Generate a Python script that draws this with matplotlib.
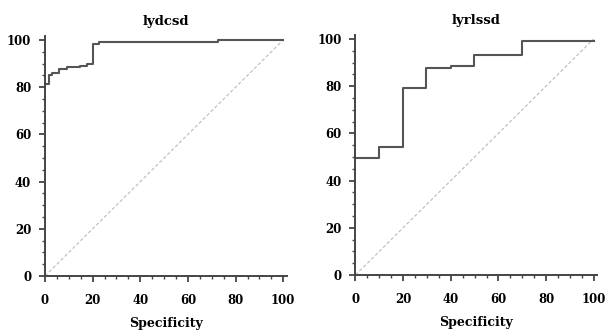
import numpy as np
import matplotlib
matplotlib.use("Agg")
import matplotlib.pyplot as plt
from matplotlib.ticker import MultipleLocator

# step curves (specificity axis, sensitivity)
lydcsd_x = [0, 1.5, 3.0, 5.7, 9.2, 14.8, 17.6, 20.3, 22.7, 72.7, 100]
lydcsd_y = [81.3, 85.1, 86.2, 87.7, 88.4, 89.1, 89.9, 98.1, 99.2, 100, 100]

lyrlssd_x = [0, 10, 20, 29.8, 40, 49.8, 69.7, 100]
lyrlssd_y = [49.5, 54.3, 79.4, 87.5, 88.5, 93.1, 99.1, 99.1]

titles = ["lydcsd", "lyrlssd"]
xlabel = "Specificity"
ticks = [0, 20, 40, 60, 80, 100]

plt.rcParams["font.family"] = ["DejaVu Serif"]
plt.rcParams["font.weight"] = "bold"

fig = plt.figure(figsize=(6.06, 3.30), dpi=100)
ax1 = fig.add_axes([0.0743, 0.1636, 0.399, 0.726])
ax2 = fig.add_axes([0.5866, 0.1667, 0.399, 0.726])

col = "#555555"
for ax, xs, ys, title in [(ax1, lydcsd_x, lydcsd_y, titles[0]),
                          (ax2, lyrlssd_x, lyrlssd_y, titles[1])]:
    ax.plot([0, 100], [0, 100], color="#bbbbbb", lw=0.8, ls=(0, (3, 2)))
    ax.step(xs, ys, where="post", color=col, lw=1.5)
    ax.set_xlim(0, 101.5)
    ax.set_ylim(0, 101.5)
    ax.set_xticks(ticks)
    ax.set_yticks(ticks)
    ax.xaxis.set_minor_locator(MultipleLocator(5))
    ax.yaxis.set_minor_locator(MultipleLocator(5))
    for s in ["top", "right"]:
        ax.spines[s].set_visible(False)
    for s in ["left", "bottom"]:
        ax.spines[s].set_color("#444444")
        ax.spines[s].set_linewidth(1.4)
    ax.tick_params(which="major", direction="out", length=4.5, width=1.3,
                   color="#444444", labelsize=8.5)
    ax.tick_params(which="minor", direction="out", length=2.5, width=1.0,
                   color="#444444")
    ax.tick_params(axis="x", which="major", pad=8.5)
    ax.tick_params(axis="y", which="major", pad=5.5)
    for lab in ax.get_xticklabels() + ax.get_yticklabels():
        lab.set_fontweight("bold")
    ax.set_title(title, fontsize=9.5, fontweight="bold", pad=8.5)
    ax.set_xlabel(xlabel, fontsize=9, fontweight="bold", labelpad=7)
    ax.set_clip_on(False)

fig.savefig("out.png", dpi=100)
